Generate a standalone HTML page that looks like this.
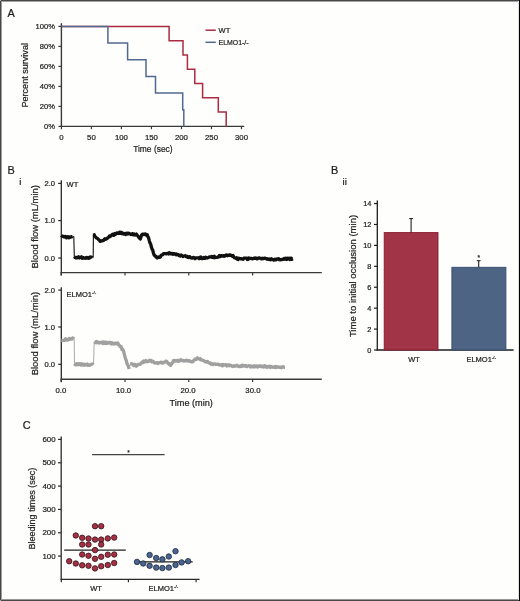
<!DOCTYPE html>
<html><head><meta charset="utf-8"><style>
html,body{margin:0;padding:0;background:#fff;}
body{width:520px;height:601px;overflow:hidden;}
svg{display:block;font-family:"Liberation Sans", sans-serif;will-change:transform;}
text{stroke:#222;stroke-width:0.22px;}
</style></head><body>
<svg width="520" height="601" viewBox="0 0 520 601">
<rect x="0" y="0" width="520" height="601" fill="#fefefd"/>
<text x="7.6" y="16.8" font-size="10.9" text-anchor="start" fill="#1a1a1a" >A</text>
<line x1="61.4" y1="23.2" x2="61.4" y2="127.0" stroke="#3a3a3a" stroke-width="1.4"/>
<line x1="60.8" y1="126.4" x2="244.2" y2="126.4" stroke="#3a3a3a" stroke-width="1.4"/>
<line x1="58.4" y1="126.4" x2="61.4" y2="126.4" stroke="#3a3a3a" stroke-width="1.2"/>
<text x="55.0" y="129.0" font-size="7.6" text-anchor="end" fill="#222" >0%</text>
<line x1="58.4" y1="106.4" x2="61.4" y2="106.4" stroke="#3a3a3a" stroke-width="1.2"/>
<text x="55.0" y="109.0" font-size="7.6" text-anchor="end" fill="#222" >20%</text>
<line x1="58.4" y1="86.4" x2="61.4" y2="86.4" stroke="#3a3a3a" stroke-width="1.2"/>
<text x="55.0" y="89.0" font-size="7.6" text-anchor="end" fill="#222" >40%</text>
<line x1="58.4" y1="66.4" x2="61.4" y2="66.4" stroke="#3a3a3a" stroke-width="1.2"/>
<text x="55.0" y="69.0" font-size="7.6" text-anchor="end" fill="#222" >60%</text>
<line x1="58.4" y1="46.400000000000006" x2="61.4" y2="46.400000000000006" stroke="#3a3a3a" stroke-width="1.2"/>
<text x="55.0" y="49.00000000000001" font-size="7.6" text-anchor="end" fill="#222" >80%</text>
<line x1="58.4" y1="26.400000000000006" x2="61.4" y2="26.400000000000006" stroke="#3a3a3a" stroke-width="1.2"/>
<text x="55.0" y="29.000000000000007" font-size="7.6" text-anchor="end" fill="#222" >100%</text>
<line x1="61.4" y1="126.4" x2="61.4" y2="129.20000000000002" stroke="#3a3a3a" stroke-width="1.2"/>
<text x="61.4" y="140.2" font-size="7.8" text-anchor="middle" fill="#222" >0</text>
<line x1="91.41499999999999" y1="126.4" x2="91.41499999999999" y2="129.20000000000002" stroke="#3a3a3a" stroke-width="1.2"/>
<text x="91.41499999999999" y="140.2" font-size="7.8" text-anchor="middle" fill="#222" >50</text>
<line x1="121.42999999999999" y1="126.4" x2="121.42999999999999" y2="129.20000000000002" stroke="#3a3a3a" stroke-width="1.2"/>
<text x="121.42999999999999" y="140.2" font-size="7.8" text-anchor="middle" fill="#222" >100</text>
<line x1="151.445" y1="126.4" x2="151.445" y2="129.20000000000002" stroke="#3a3a3a" stroke-width="1.2"/>
<text x="151.445" y="140.2" font-size="7.8" text-anchor="middle" fill="#222" >150</text>
<line x1="181.45999999999998" y1="126.4" x2="181.45999999999998" y2="129.20000000000002" stroke="#3a3a3a" stroke-width="1.2"/>
<text x="181.45999999999998" y="140.2" font-size="7.8" text-anchor="middle" fill="#222" >200</text>
<line x1="211.475" y1="126.4" x2="211.475" y2="129.20000000000002" stroke="#3a3a3a" stroke-width="1.2"/>
<text x="211.475" y="140.2" font-size="7.8" text-anchor="middle" fill="#222" >250</text>
<line x1="241.48999999999998" y1="126.4" x2="241.48999999999998" y2="129.20000000000002" stroke="#3a3a3a" stroke-width="1.2"/>
<text x="241.48999999999998" y="140.2" font-size="7.8" text-anchor="middle" fill="#222" >300</text>
<path d="M61.4,26.4 L169.1,26.4 L169.1,40.7 L183.0,40.7 L183.0,55.0 L187.4,55.0 L187.4,69.3 L194.8,69.3 L194.8,83.5 L202.6,83.5 L202.6,97.8 L218.3,97.8 L218.3,112.1 L226.2,112.1 L226.2,126.4" fill="none" stroke="#ac2b40" stroke-width="1.5" stroke-linejoin="miter"/>
<path d="M61.4,26.4 L107.9,26.4 L107.9,43.1 L127.6,43.1 L127.6,59.7 L146.0,59.7 L146.0,76.4 L155.5,76.4 L155.5,93.1 L182.7,93.1 L182.7,109.7 L183.8,109.7 L183.8,126.4" fill="none" stroke="#52698f" stroke-width="1.5" stroke-linejoin="miter"/>
<line x1="205.5" y1="30.2" x2="215.8" y2="30.2" stroke="#ac2b40" stroke-width="1.5"/>
<text x="218.6" y="32.8" font-size="7.5" text-anchor="start" fill="#222" >WT</text>
<line x1="205.5" y1="42.3" x2="215.8" y2="42.3" stroke="#52698f" stroke-width="1.5"/>
<text x="218.6" y="44.9" font-size="7.5" text-anchor="start" fill="#222" textLength="30" lengthAdjust="spacingAndGlyphs" >ELMO1-/-</text>
<text x="152.9" y="152.3" font-size="9.6" text-anchor="middle" fill="#222" textLength="39.5" lengthAdjust="spacingAndGlyphs" >Time (sec)</text>
<text transform="translate(27.9,75.3) rotate(-90)" font-size="9.4" text-anchor="middle" fill="#222" textLength="64.5" lengthAdjust="spacingAndGlyphs">Percent survival</text>
<text x="7.4" y="173.8" font-size="10.9" text-anchor="start" fill="#1a1a1a" >B</text>
<text x="19.2" y="185.4" font-size="9.6" text-anchor="start" fill="#222" >i</text>
<line x1="61.3" y1="180.3" x2="61.3" y2="275.6" stroke="#2a2a2a" stroke-width="1.3"/>
<line x1="58.2" y1="183.4" x2="61.3" y2="183.4" stroke="#2a2a2a" stroke-width="1.2"/>
<text x="55.0" y="185.9" font-size="7.6" text-anchor="end" fill="#222" >2.0</text>
<line x1="58.2" y1="220.6" x2="61.3" y2="220.6" stroke="#2a2a2a" stroke-width="1.2"/>
<text x="55.0" y="223.1" font-size="7.6" text-anchor="end" fill="#222" >1.0</text>
<line x1="58.2" y1="258.0" x2="61.3" y2="258.0" stroke="#2a2a2a" stroke-width="1.2"/>
<text x="55.0" y="260.5" font-size="7.6" text-anchor="end" fill="#222" >0.0</text>
<line x1="60.6" y1="272.6" x2="321.8" y2="272.6" stroke="#3a3a3a" stroke-width="1.4"/>
<line x1="61.2" y1="272.6" x2="61.2" y2="275.40000000000003" stroke="#3a3a3a" stroke-width="1.2"/>
<line x1="125.0" y1="272.6" x2="125.0" y2="275.40000000000003" stroke="#3a3a3a" stroke-width="1.2"/>
<line x1="188.8" y1="272.6" x2="188.8" y2="275.40000000000003" stroke="#3a3a3a" stroke-width="1.2"/>
<line x1="252.59999999999997" y1="272.6" x2="252.59999999999997" y2="275.40000000000003" stroke="#3a3a3a" stroke-width="1.2"/>
<text transform="translate(37.9,226.75000000000003) rotate(-90)" font-size="9.3" text-anchor="middle" fill="#222" textLength="83.5" lengthAdjust="spacingAndGlyphs">Blood flow (mL/min)</text>
<text x="66.6" y="186.9" font-size="7.5" text-anchor="start" fill="#222" >WT</text>
<line x1="61.3" y1="287.2" x2="61.3" y2="382.3" stroke="#2a2a2a" stroke-width="1.3"/>
<line x1="58.2" y1="290.1" x2="61.3" y2="290.1" stroke="#2a2a2a" stroke-width="1.2"/>
<text x="55.0" y="292.6" font-size="7.6" text-anchor="end" fill="#222" >2.0</text>
<line x1="58.2" y1="327.0" x2="61.3" y2="327.0" stroke="#2a2a2a" stroke-width="1.2"/>
<text x="55.0" y="329.5" font-size="7.6" text-anchor="end" fill="#222" >1.0</text>
<line x1="58.2" y1="364.3" x2="61.3" y2="364.3" stroke="#2a2a2a" stroke-width="1.2"/>
<text x="55.0" y="366.8" font-size="7.6" text-anchor="end" fill="#222" >0.0</text>
<line x1="60.6" y1="379.3" x2="321.8" y2="379.3" stroke="#3a3a3a" stroke-width="1.4"/>
<line x1="61.2" y1="379.3" x2="61.2" y2="382.1" stroke="#3a3a3a" stroke-width="1.2"/>
<line x1="125.0" y1="379.3" x2="125.0" y2="382.1" stroke="#3a3a3a" stroke-width="1.2"/>
<line x1="188.8" y1="379.3" x2="188.8" y2="382.1" stroke="#3a3a3a" stroke-width="1.2"/>
<line x1="252.59999999999997" y1="379.3" x2="252.59999999999997" y2="382.1" stroke="#3a3a3a" stroke-width="1.2"/>
<text transform="translate(37.9,333.55) rotate(-90)" font-size="9.3" text-anchor="middle" fill="#222" textLength="83.5" lengthAdjust="spacingAndGlyphs">Blood flow (mL/min)</text>
<text x="66.6" y="297.0" font-size="7.5" fill="#222">ELMO1<tspan font-size="4.4" dy="-3.2">-/-</tspan></text>
<text x="60.9" y="393.0" font-size="7.8" text-anchor="middle" fill="#222" >0.0</text>
<text x="123.6" y="393.0" font-size="7.8" text-anchor="middle" fill="#222" >10.0</text>
<text x="188.0" y="393.0" font-size="7.8" text-anchor="middle" fill="#222" >20.0</text>
<text x="252.9" y="393.0" font-size="7.8" text-anchor="middle" fill="#222" >30.0</text>
<text x="191.2" y="405.8" font-size="9.6" text-anchor="middle" fill="#222" textLength="43.4" lengthAdjust="spacingAndGlyphs" >Time (min)</text>
<path d="M61.30,235.38 L62.05,236.14 L62.80,236.13 L63.55,236.77 L64.30,237.07 L65.05,236.44 L65.80,236.62 L66.57,237.84 L67.33,236.81 L68.10,236.67 L68.87,237.79 L69.63,236.85 L70.40,237.34 L71.17,236.66 L71.93,236.82 L72.70,236.50 M74.30,256.64 L75.01,257.47 L75.72,257.89 L76.44,257.39 L77.15,257.79 L77.86,257.72 L78.58,256.80 L79.29,257.96 L80.00,257.75 L80.72,257.28 L81.45,256.85 L82.17,258.18 L82.89,257.56 L83.62,257.95 L84.34,258.21 L85.06,257.94 L85.79,258.27 L86.51,257.43 L87.24,258.08 L87.96,257.51 L88.68,258.30 L89.41,258.21 L90.13,256.96 L90.85,257.02 L91.58,257.15 L92.30,257.60 M93.40,234.24 L94.17,234.70 L94.93,236.30 L95.70,237.08 L96.47,237.98 L97.23,238.35 L98.00,238.86 L98.77,239.80 L99.53,240.37 L100.30,241.45 L101.07,240.82 L101.83,240.95 L102.60,240.57 L103.37,240.52 L104.13,239.74 L104.90,238.66 L105.68,239.31 L106.45,239.02 L107.22,238.46 L108.00,237.46 L108.78,237.23 L109.55,235.96 L110.32,236.49 L111.10,235.62 L111.80,234.91 L112.50,234.31 L113.20,235.33 L113.90,235.30 L114.60,233.61 L115.30,234.51 L116.00,233.64 L116.70,232.98 L117.40,232.96 L118.10,233.48 L118.80,233.40 L119.56,232.16 L120.33,233.16 L121.09,232.33 L121.85,233.50 L122.61,232.97 L123.38,233.93 L124.14,234.18 L124.90,233.51 L125.68,234.40 L126.45,233.40 L127.22,233.12 L128.00,234.06 L128.78,233.25 L129.55,233.62 L130.32,234.05 L131.10,234.48 L131.87,233.75 L132.64,233.57 L133.41,234.89 L134.19,234.00 L134.96,235.03 L135.73,234.93 L136.50,234.10 L137.26,235.16 L138.02,236.17 L138.78,237.29 L139.54,238.13 L140.30,238.99 L141.05,236.64 L141.80,234.70 L142.57,234.10 L143.34,234.06 L144.11,234.61 L144.89,233.92 L145.66,234.11 L146.43,235.28 L147.20,234.63 L147.90,236.73 L148.60,237.92 L149.30,240.61 L150.00,242.93 L150.70,244.08 L151.40,247.09 L152.10,249.16 L152.80,250.30 L153.50,253.25 L154.20,255.05 L154.96,256.01 L155.72,256.10 L156.48,257.29 L157.24,257.96 L158.00,257.44 L158.77,256.90 L159.54,257.28 L160.31,257.14 L161.09,255.40 L161.86,255.13 L162.63,254.75 L163.40,253.71 L164.13,253.70 L164.87,253.54 L165.60,253.56 L166.33,253.84 L167.07,253.29 L167.80,253.34 L168.53,253.89 L169.27,252.62 L170.00,253.41 L170.74,253.82 L171.47,253.29 L172.21,253.30 L172.94,254.37 L173.68,253.62 L174.41,253.68 L175.15,254.23 L175.88,254.79 L176.62,253.99 L177.35,254.49 L178.09,254.65 L178.82,255.60 L179.56,255.11 L180.29,255.93 L181.03,254.98 L181.76,255.39 L182.50,256.04 L183.24,256.56 L183.97,256.00 L184.71,255.78 L185.44,255.76 L186.18,256.55 L186.91,256.15 L187.65,257.28 L188.38,257.47 L189.12,256.56 L189.85,256.86 L190.59,257.84 L191.32,257.72 L192.06,258.13 L192.79,257.53 L193.53,257.33 L194.26,257.73 L195.00,258.67 L195.71,257.79 L196.43,257.87 L197.14,257.94 L197.86,257.90 L198.57,257.84 L199.29,258.62 L200.00,257.35 L200.71,257.06 L201.43,258.52 L202.14,258.38 L202.86,258.51 L203.57,257.58 L204.29,258.36 L205.00,258.28 L205.71,257.11 L206.43,257.91 L207.14,258.01 L207.86,257.69 L208.57,257.42 L209.29,257.01 L210.00,257.05 L210.71,256.82 L211.43,256.52 L212.14,257.31 L212.86,256.79 L213.57,257.58 L214.29,256.31 L215.00,257.65 L215.73,257.20 L216.45,257.47 L217.18,257.32 L217.91,257.22 L218.63,256.60 L219.36,255.59 L220.08,256.66 L220.81,255.63 L221.54,255.73 L222.26,256.21 L222.99,255.88 L223.72,255.60 L224.44,256.33 L225.17,255.71 L225.89,255.17 L226.62,254.92 L227.35,255.79 L228.07,255.07 L228.80,255.45 L229.64,254.96 L230.48,254.92 L231.32,255.66 L232.16,256.31 L233.00,255.47 L233.75,256.97 L234.50,257.67 L235.25,257.99 L236.00,258.52 L236.75,257.71 L237.50,259.21 L238.21,259.56 L238.91,258.24 L239.62,258.58 L240.32,258.56 L241.03,258.95 L241.73,258.77 L242.44,258.83 L243.14,259.30 L243.85,258.04 L244.55,258.11 L245.26,258.21 L245.96,258.18 L246.67,258.08 L247.37,259.51 L248.08,259.30 L248.78,258.05 L249.49,258.70 L250.19,258.38 L250.90,258.36 L251.60,258.40 L252.31,258.86 L253.01,258.74 L253.72,258.36 L254.42,258.07 L255.13,258.28 L255.83,257.93 L256.54,258.60 L257.24,258.84 L257.95,258.29 L258.65,257.79 L259.36,257.93 L260.06,258.22 L260.77,258.57 L261.47,258.84 L262.18,258.18 L262.88,258.84 L263.59,258.53 L264.29,258.21 L265.00,258.10 L265.71,258.47 L266.43,258.97 L267.14,258.69 L267.86,259.30 L268.57,259.09 L269.29,258.92 L270.00,259.56 L270.71,259.79 L271.41,258.77 L272.12,259.31 L272.82,259.29 L273.53,260.00 L274.24,260.07 L274.94,259.15 L275.65,259.96 L276.36,259.77 L277.06,258.90 L277.77,259.20 L278.48,258.63 L279.18,259.72 L279.89,259.45 L280.59,259.79 L281.30,259.62 L282.01,259.40 L282.71,259.48 L283.42,259.19 L284.12,258.43 L284.83,259.18 L285.54,258.23 L286.24,258.43 L286.95,259.41 L287.66,258.22 L288.36,258.28 L289.07,258.27 L289.78,259.50 L290.48,258.35 L291.19,258.08 L291.89,259.37 L292.60,258.80" fill="none" stroke="#111" stroke-width="3.3" stroke-linejoin="round" stroke-linecap="butt"/>
<line x1="72.7" y1="236.5" x2="73.8" y2="236.5" stroke="#111" stroke-width="1.1"/>
<line x1="73.8" y1="236.5" x2="74.3" y2="257.2" stroke="#111" stroke-width="1.1"/>
<line x1="92.3" y1="257.6" x2="93.2" y2="257.6" stroke="#111" stroke-width="1.1"/>
<line x1="93.2" y1="257.6" x2="93.4" y2="233.5" stroke="#111" stroke-width="1.1"/>
<path d="M61.30,340.20 L62.01,340.31 L62.72,340.32 L63.44,340.48 L64.15,340.08 L64.86,340.30 L65.58,338.80 L66.29,339.42 L67.00,340.11 L67.71,339.56 L68.42,339.89 L69.14,338.56 L69.85,339.05 L70.56,338.62 L71.28,339.02 L71.99,338.99 L72.70,338.02 L73.45,338.35 L74.20,338.80 M74.50,363.85 L75.20,364.88 L75.91,364.66 L76.61,363.71 L77.31,364.75 L78.02,363.71 L78.72,364.50 L79.43,363.73 L80.13,363.55 L80.83,364.96 L81.54,363.92 L82.24,363.95 L82.94,365.19 L83.65,365.04 L84.35,364.12 L85.06,365.22 L85.76,364.56 L86.46,364.80 L87.17,364.06 L87.87,365.26 L88.57,364.88 L89.28,365.34 L89.98,365.24 L90.69,364.30 L91.39,364.42 L92.09,364.13 L92.80,364.11 L93.50,364.70 M94.20,341.60 L94.92,342.02 L95.64,342.54 L96.35,341.61 L97.07,342.73 L97.79,342.22 L98.51,342.21 L99.23,343.06 L99.95,342.56 L100.66,342.33 L101.38,342.63 L102.10,343.03 L102.82,342.03 L103.54,343.53 L104.25,342.05 L104.97,343.25 L105.69,343.43 L106.41,342.15 L107.13,343.41 L107.85,342.78 L108.56,343.15 L109.28,342.28 L110.00,342.37 L110.70,342.63 L111.40,343.90 L112.10,342.72 L112.80,343.65 L113.50,343.97 L114.20,344.03 L114.90,343.11 L115.60,343.16 L116.30,343.47 L117.00,343.90 L117.70,342.87 L118.65,344.65 L119.60,345.48 L120.38,346.82 L121.16,346.74 L121.94,349.43 L122.72,349.31 L123.50,350.95 L124.43,354.58 L125.37,358.27 L126.30,360.54 L127.02,363.53 L127.75,364.97 L128.47,366.65 L129.20,369.00 M130.20,363.91 L130.90,363.78 L131.60,363.73 L132.30,363.94 L133.00,364.90 L133.78,365.59 L134.56,364.46 L135.34,364.48 L136.12,366.18 L136.90,365.65 L137.67,365.02 L138.44,364.32 L139.21,364.46 L139.98,364.40 L140.75,363.38 L141.52,362.89 L142.29,361.88 L143.06,362.83 L143.83,360.98 L144.60,361.29 L145.32,361.78 L146.05,360.58 L146.78,361.48 L147.50,361.77 L148.22,361.20 L148.95,361.39 L149.68,360.23 L150.40,360.70 L151.17,360.47 L151.94,361.81 L152.71,361.16 L153.48,361.65 L154.25,362.75 L155.02,362.74 L155.79,363.17 L156.56,362.57 L157.33,362.85 L158.10,363.47 L158.82,362.95 L159.53,362.53 L160.25,362.60 L160.97,362.07 L161.68,362.32 L162.40,363.18 L163.12,363.02 L163.83,362.37 L164.55,362.05 L165.27,361.67 L165.98,361.16 L166.70,361.34 L167.48,362.81 L168.26,363.61 L169.04,363.46 L169.82,364.80 L170.60,365.44 L171.32,364.26 L172.05,363.16 L172.78,362.27 L173.50,360.58 L174.21,361.11 L174.91,360.41 L175.62,360.71 L176.32,361.15 L177.03,361.00 L177.73,360.34 L178.44,361.37 L179.14,360.87 L179.85,360.74 L180.55,359.81 L181.26,360.64 L181.96,360.15 L182.67,360.80 L183.37,360.45 L184.08,360.99 L184.78,360.70 L185.49,360.92 L186.19,360.18 L186.90,360.63 L187.62,360.88 L188.35,361.13 L189.07,360.46 L189.80,361.35 L190.53,361.49 L191.25,361.30 L191.97,361.86 L192.70,361.93 L193.50,360.68 L194.30,360.15 L195.10,359.02 L195.90,359.54 L196.70,359.15 L197.50,357.86 L198.24,358.53 L198.99,358.90 L199.73,359.24 L200.48,358.66 L201.22,359.96 L201.97,359.96 L202.71,360.42 L203.46,360.35 L204.20,361.00 L204.95,361.58 L205.71,361.69 L206.46,362.16 L207.22,361.39 L207.97,361.94 L208.73,362.72 L209.48,363.39 L210.24,363.04 L210.99,364.12 L211.75,364.37 L212.50,363.77 L213.21,364.50 L213.93,364.15 L214.64,363.92 L215.36,364.09 L216.07,364.43 L216.79,364.26 L217.50,364.32 L218.21,364.11 L218.93,364.85 L219.64,364.75 L220.36,365.17 L221.07,365.18 L221.79,364.66 L222.50,365.77 L223.21,364.37 L223.93,365.06 L224.64,364.90 L225.36,365.16 L226.07,364.73 L226.79,365.92 L227.50,365.24 L228.21,364.74 L228.93,365.71 L229.64,364.92 L230.36,365.69 L231.07,365.40 L231.79,365.83 L232.50,366.48 L233.21,366.27 L233.93,365.65 L234.64,366.29 L235.36,366.03 L236.07,365.61 L236.79,365.26 L237.50,366.00 L238.21,365.97 L238.93,366.61 L239.64,366.64 L240.36,366.08 L241.07,365.68 L241.79,366.57 L242.50,365.15 L243.21,365.34 L243.93,366.08 L244.64,366.18 L245.36,365.43 L246.07,366.23 L246.79,366.66 L247.50,365.85 L248.21,365.95 L248.93,365.64 L249.64,365.76 L250.36,366.86 L251.07,365.93 L251.79,366.87 L252.50,366.81 L253.21,366.32 L253.93,365.79 L254.64,366.96 L255.36,366.20 L256.07,366.09 L256.79,365.95 L257.50,367.02 L258.21,366.27 L258.91,365.97 L259.62,366.31 L260.32,365.77 L261.03,366.60 L261.73,366.35 L262.44,366.14 L263.14,366.96 L263.85,367.06 L264.55,365.79 L265.26,366.65 L265.96,366.27 L266.67,367.36 L267.37,367.15 L268.08,366.32 L268.78,366.39 L269.49,366.24 L270.19,367.61 L270.90,366.53 L271.60,367.06 L272.31,366.88 L273.01,367.19 L273.72,367.15 L274.42,367.41 L275.13,366.44 L275.83,367.50 L276.54,366.80 L277.24,367.20 L277.95,366.92 L278.65,366.89 L279.36,367.29 L280.06,367.22 L280.77,367.09 L281.47,367.73 L282.18,367.52 L282.88,366.66 L283.59,367.04 L284.29,367.40 L285.00,367.50" fill="none" stroke="#a0a0a0" stroke-width="3.3" stroke-linejoin="round" stroke-linecap="butt"/>
<line x1="74.2" y1="338.8" x2="74.5" y2="364.2" stroke="#a0a0a0" stroke-width="0.9"/>
<line x1="93.5" y1="364.7" x2="94.2" y2="342.3" stroke="#a0a0a0" stroke-width="0.9"/>
<line x1="129.2" y1="369.0" x2="130.2" y2="364.2" stroke="#a0a0a0" stroke-width="0.9"/>
<text x="330.9" y="173.9" font-size="10.9" text-anchor="start" fill="#1a1a1a" >B</text>
<text x="342.6" y="185.4" font-size="9.6" text-anchor="start" fill="#222" >ii</text>
<line x1="377.3" y1="200.6" x2="377.3" y2="350.6" stroke="#1e1e1e" stroke-width="1.3"/>
<line x1="376.7" y1="350.0" x2="513.6" y2="350.0" stroke="#1e1e1e" stroke-width="1.3"/>
<line x1="374.0" y1="350.0" x2="377.3" y2="350.0" stroke="#1e1e1e" stroke-width="1.2"/>
<text x="371.4" y="352.5" font-size="7.4" text-anchor="end" fill="#222" >0</text>
<line x1="374.0" y1="329.08" x2="377.3" y2="329.08" stroke="#1e1e1e" stroke-width="1.2"/>
<text x="371.4" y="331.58" font-size="7.4" text-anchor="end" fill="#222" >2</text>
<line x1="374.0" y1="308.15999999999997" x2="377.3" y2="308.15999999999997" stroke="#1e1e1e" stroke-width="1.2"/>
<text x="371.4" y="310.65999999999997" font-size="7.4" text-anchor="end" fill="#222" >4</text>
<line x1="374.0" y1="287.24" x2="377.3" y2="287.24" stroke="#1e1e1e" stroke-width="1.2"/>
<text x="371.4" y="289.74" font-size="7.4" text-anchor="end" fill="#222" >6</text>
<line x1="374.0" y1="266.32" x2="377.3" y2="266.32" stroke="#1e1e1e" stroke-width="1.2"/>
<text x="371.4" y="268.82" font-size="7.4" text-anchor="end" fill="#222" >8</text>
<line x1="374.0" y1="245.39999999999998" x2="377.3" y2="245.39999999999998" stroke="#1e1e1e" stroke-width="1.2"/>
<text x="371.4" y="247.89999999999998" font-size="7.4" text-anchor="end" fill="#222" >10</text>
<line x1="374.0" y1="224.48" x2="377.3" y2="224.48" stroke="#1e1e1e" stroke-width="1.2"/>
<text x="371.4" y="226.98" font-size="7.4" text-anchor="end" fill="#222" >12</text>
<line x1="374.0" y1="203.56" x2="377.3" y2="203.56" stroke="#1e1e1e" stroke-width="1.2"/>
<text x="371.4" y="206.06" font-size="7.4" text-anchor="end" fill="#222" >14</text>
<rect x="384.2" y="232.6" width="53.8" height="117.4" fill="#a13446" stroke="#86192c" stroke-width="0.9"/>
<rect x="451.9" y="267.3" width="54.0" height="82.7" fill="#4e6484" stroke="#36496b" stroke-width="0.9"/>
<line x1="411.1" y1="232.4" x2="411.1" y2="218.6" stroke="#222" stroke-width="1.1"/>
<line x1="409.2" y1="218.6" x2="413.0" y2="218.6" stroke="#222" stroke-width="1.1"/>
<line x1="478.7" y1="267.3" x2="478.7" y2="260.7" stroke="#222" stroke-width="1.1"/>
<line x1="476.8" y1="260.7" x2="480.6" y2="260.7" stroke="#222" stroke-width="1.1"/>
<text x="478.7" y="259.6" font-size="6.5" text-anchor="middle" fill="#222" >*</text>
<text x="414" y="361.9" font-size="7.5" text-anchor="middle" fill="#222" >WT</text>
<text x="466.4" y="361.9" font-size="7.5" fill="#222">ELMO1<tspan font-size="4.4" dy="-3.2">-/-</tspan></text>
<text transform="translate(356.4,276.0) rotate(-90)" font-size="9.6" text-anchor="middle" fill="#222" textLength="122.2" lengthAdjust="spacingAndGlyphs">Time to initial occlusion (min)</text>
<text x="22.8" y="428.9" font-size="10.9" text-anchor="start" fill="#1a1a1a" >C</text>
<line x1="61.2" y1="436.6" x2="61.2" y2="580.0" stroke="#2a2a2a" stroke-width="1.3"/>
<line x1="60.6" y1="579.4" x2="199.6" y2="579.4" stroke="#2a2a2a" stroke-width="1.3"/>
<line x1="58.0" y1="556.0699999999999" x2="61.2" y2="556.0699999999999" stroke="#2a2a2a" stroke-width="1.2"/>
<text x="55.6" y="558.77" font-size="7.9" text-anchor="end" fill="#222" >100</text>
<line x1="58.0" y1="532.74" x2="61.2" y2="532.74" stroke="#2a2a2a" stroke-width="1.2"/>
<text x="55.6" y="535.44" font-size="7.9" text-anchor="end" fill="#222" >200</text>
<line x1="58.0" y1="509.40999999999997" x2="61.2" y2="509.40999999999997" stroke="#2a2a2a" stroke-width="1.2"/>
<text x="55.6" y="512.11" font-size="7.9" text-anchor="end" fill="#222" >300</text>
<line x1="58.0" y1="486.08" x2="61.2" y2="486.08" stroke="#2a2a2a" stroke-width="1.2"/>
<text x="55.6" y="488.78" font-size="7.9" text-anchor="end" fill="#222" >400</text>
<line x1="58.0" y1="462.75" x2="61.2" y2="462.75" stroke="#2a2a2a" stroke-width="1.2"/>
<text x="55.6" y="465.45" font-size="7.9" text-anchor="end" fill="#222" >500</text>
<line x1="58.0" y1="439.41999999999996" x2="61.2" y2="439.41999999999996" stroke="#2a2a2a" stroke-width="1.2"/>
<text x="55.6" y="442.11999999999995" font-size="7.9" text-anchor="end" fill="#222" >600</text>
<line x1="61.3" y1="579.4" x2="61.3" y2="582.1999999999999" stroke="#2a2a2a" stroke-width="1.2"/>
<line x1="128.4" y1="579.4" x2="128.4" y2="582.1999999999999" stroke="#2a2a2a" stroke-width="1.2"/>
<line x1="196.1" y1="579.4" x2="196.1" y2="582.1999999999999" stroke="#2a2a2a" stroke-width="1.2"/>
<line x1="92.1" y1="454.6" x2="164.6" y2="454.6" stroke="#444" stroke-width="1.1"/>
<text x="128.5" y="454.7" font-size="6.5" text-anchor="middle" fill="#222" >*</text>
<line x1="64.2" y1="550.1" x2="125.8" y2="550.1" stroke="#1e1e1e" stroke-width="1.1"/>
<line x1="136.5" y1="561.9" x2="192.7" y2="561.9" stroke="#1e1e1e" stroke-width="1.1"/>
<circle cx="95" cy="526.2" r="2.75" fill="#a62f44" stroke="#2a1014" stroke-width="0.75"/>
<circle cx="101.2" cy="526.2" r="2.75" fill="#a62f44" stroke="#2a1014" stroke-width="0.75"/>
<circle cx="75.8" cy="535.5" r="2.75" fill="#a62f44" stroke="#2a1014" stroke-width="0.75"/>
<circle cx="82.2" cy="537.8" r="2.75" fill="#a62f44" stroke="#2a1014" stroke-width="0.75"/>
<circle cx="88.5" cy="538.5" r="2.75" fill="#a62f44" stroke="#2a1014" stroke-width="0.75"/>
<circle cx="95" cy="539.6" r="2.75" fill="#a62f44" stroke="#2a1014" stroke-width="0.75"/>
<circle cx="101.2" cy="539.6" r="2.75" fill="#a62f44" stroke="#2a1014" stroke-width="0.75"/>
<circle cx="107.8" cy="538.4" r="2.75" fill="#a62f44" stroke="#2a1014" stroke-width="0.75"/>
<circle cx="114.2" cy="537.6" r="2.75" fill="#a62f44" stroke="#2a1014" stroke-width="0.75"/>
<circle cx="82.2" cy="544.5" r="2.75" fill="#a62f44" stroke="#2a1014" stroke-width="0.75"/>
<circle cx="88.5" cy="544.5" r="2.75" fill="#a62f44" stroke="#2a1014" stroke-width="0.75"/>
<circle cx="101.2" cy="544.5" r="2.75" fill="#a62f44" stroke="#2a1014" stroke-width="0.75"/>
<circle cx="95" cy="550.1" r="2.75" fill="#a62f44" stroke="#2a1014" stroke-width="0.75"/>
<circle cx="82.2" cy="554.5" r="2.75" fill="#a62f44" stroke="#2a1014" stroke-width="0.75"/>
<circle cx="88.5" cy="555.8" r="2.75" fill="#a62f44" stroke="#2a1014" stroke-width="0.75"/>
<circle cx="95" cy="558.8" r="2.75" fill="#a62f44" stroke="#2a1014" stroke-width="0.75"/>
<circle cx="101.2" cy="556.8" r="2.75" fill="#a62f44" stroke="#2a1014" stroke-width="0.75"/>
<circle cx="107.8" cy="554.7" r="2.75" fill="#a62f44" stroke="#2a1014" stroke-width="0.75"/>
<circle cx="114.2" cy="554.5" r="2.75" fill="#a62f44" stroke="#2a1014" stroke-width="0.75"/>
<circle cx="69.2" cy="561.2" r="2.75" fill="#a62f44" stroke="#2a1014" stroke-width="0.75"/>
<circle cx="75.8" cy="563.5" r="2.75" fill="#a62f44" stroke="#2a1014" stroke-width="0.75"/>
<circle cx="82.2" cy="565.3" r="2.75" fill="#a62f44" stroke="#2a1014" stroke-width="0.75"/>
<circle cx="88.5" cy="565.8" r="2.75" fill="#a62f44" stroke="#2a1014" stroke-width="0.75"/>
<circle cx="95" cy="568.4" r="2.75" fill="#a62f44" stroke="#2a1014" stroke-width="0.75"/>
<circle cx="101.2" cy="566.2" r="2.75" fill="#a62f44" stroke="#2a1014" stroke-width="0.75"/>
<circle cx="107.8" cy="565" r="2.75" fill="#a62f44" stroke="#2a1014" stroke-width="0.75"/>
<circle cx="114.2" cy="563" r="2.75" fill="#a62f44" stroke="#2a1014" stroke-width="0.75"/>
<circle cx="137" cy="561.9" r="2.75" fill="#4a6590" stroke="#1a2434" stroke-width="0.75"/>
<circle cx="143.2" cy="563.5" r="2.75" fill="#4a6590" stroke="#1a2434" stroke-width="0.75"/>
<circle cx="149.6" cy="555" r="2.75" fill="#4a6590" stroke="#1a2434" stroke-width="0.75"/>
<circle cx="149.6" cy="565.8" r="2.75" fill="#4a6590" stroke="#1a2434" stroke-width="0.75"/>
<circle cx="156.2" cy="558.1" r="2.75" fill="#4a6590" stroke="#1a2434" stroke-width="0.75"/>
<circle cx="156.2" cy="567.6" r="2.75" fill="#4a6590" stroke="#1a2434" stroke-width="0.75"/>
<circle cx="162.4" cy="559.3" r="2.75" fill="#4a6590" stroke="#1a2434" stroke-width="0.75"/>
<circle cx="162.4" cy="568.1" r="2.75" fill="#4a6590" stroke="#1a2434" stroke-width="0.75"/>
<circle cx="168.8" cy="556.5" r="2.75" fill="#4a6590" stroke="#1a2434" stroke-width="0.75"/>
<circle cx="168.8" cy="567.6" r="2.75" fill="#4a6590" stroke="#1a2434" stroke-width="0.75"/>
<circle cx="175.5" cy="551.2" r="2.75" fill="#4a6590" stroke="#1a2434" stroke-width="0.75"/>
<circle cx="175.5" cy="565" r="2.75" fill="#4a6590" stroke="#1a2434" stroke-width="0.75"/>
<circle cx="181.6" cy="562.4" r="2.75" fill="#4a6590" stroke="#1a2434" stroke-width="0.75"/>
<circle cx="188.1" cy="561.2" r="2.75" fill="#4a6590" stroke="#1a2434" stroke-width="0.75"/>
<text x="96.1" y="591.2" font-size="7.5" text-anchor="middle" fill="#222" >WT</text>
<text x="148.6" y="591.2" font-size="7.5" fill="#222">ELMO1<tspan font-size="4.4" dy="-3.2">-/-</tspan></text>
<text transform="translate(34.6,508.6) rotate(-90)" font-size="9.3" text-anchor="middle" fill="#222" textLength="82" lengthAdjust="spacingAndGlyphs">Bleeding times (sec)</text>
<rect x="1" y="1" width="517" height="1" fill="#a2a2a2"/>
<rect x="1" y="599" width="517" height="1" fill="#979797"/>
<rect x="1" y="1" width="1" height="599" fill="#9c9c9c"/>
<rect x="518" y="1" width="1" height="600" fill="#e2e2e2"/>
<rect x="0" y="0" width="519" height="1" fill="#484848"/>
<rect x="0" y="0" width="1" height="601" fill="#484848"/>
<rect x="0" y="600" width="519" height="1" fill="#484848"/>
<rect x="519" y="0" width="1" height="601" fill="#000"/>
<rect x="0" y="0" width="1" height="1" fill="#aaa"/>
<rect x="0" y="600" width="1" height="1" fill="#aaa"/>
</svg>
</body></html>
